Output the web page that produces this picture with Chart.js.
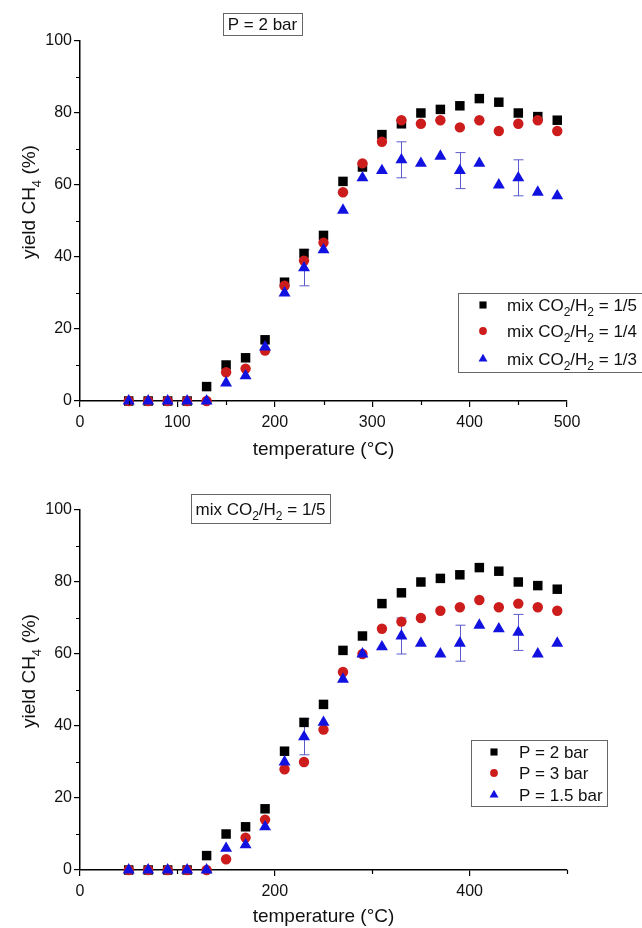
<!DOCTYPE html>
<html>
<head>
<meta charset="utf-8">
<script src="https://cdn.jsdelivr.net/npm/chart.js@4.4.1/dist/chart.umd.min.js"></script>
<style>
html, body { margin: 0; padding: 0; background: #fff; }
#wrap { position: relative; width: 642px; height: 928px; overflow: hidden; }
canvas { position: absolute; left: 0; }
</style>
</head>
<body>
<div id="wrap">
  <canvas id="chartTop" width="642" height="464" style="top:0"></canvas>
  <canvas id="chartBottom" width="642" height="464" style="top:464px"></canvas>
</div>
<script>
// temperatures (°C), shared by both panels
var temperature = [50, 70, 90, 110, 130, 150, 170, 190, 210, 230, 250, 270, 290, 310, 330, 350, 370, 390, 410, 430, 450, 470, 490];

// top panel: P = 2 bar, different CO2/H2 ratios
var yieldMix15 = [0, 0, 0, 0, 4, 10, 12, 17, 33, 41, 46, 61, 65, 74, 77, 80, 81, 82, 84, 83, 80, 79, 78];
var yieldMix14 = [0, 0, 0, 0, 0, 8, 9, 14, 32, 39, 44, 58, 66, 72, 78, 77, 78, 76, 78, 75, 77, 78, 75];
var yieldMix13 = [0, 0, 0, 0, 0, 5, 7, 15, 30, 37, 42, 53, 62, 64, 67, 66, 68, 64, 66, 60, 62, 58, 57];
var errMix13 = [null, null, null, null, null, null, null, null, null, 5, null, null, null, null, 5, null, null, 5, null, null, 5, null, null];

// bottom panel: mix CO2/H2 = 1/5, different pressures
var yieldP2 = [0, 0, 0, 0, 4, 10, 12, 17, 33, 41, 46, 61, 65, 74, 77, 80, 81, 82, 84, 83, 80, 79, 78];
var yieldP3 = [0, 0, 0, 0, 0, 3, 9, 14, 28, 30, 39, 55, 60, 67, 69, 70, 72, 73, 75, 73, 74, 73, 72];
var yieldP15 = [0, 0, 0, 0, 0, 6, 7, 12, 30, 37, 41, 53, 60, 62, 65, 63, 60, 63, 68, 67, 66, 60, 63];
var errP15 = [null, null, null, null, null, null, null, null, null, 5, null, null, null, null, 5, null, null, 5, null, null, 5, null, null];

// labels ("_x" = subscript character)
var labelsTop = ['mix CO_2/H_2 = 1/5', 'mix CO_2/H_2 = 1/4', 'mix CO_2/H_2 = 1/3'];
var labelsBottom = ['P = 2 bar', 'P = 3 bar', 'P = 1.5 bar'];
var titleTop = 'P = 2 bar';
var titleBottom = 'mix CO_2/H_2 = 1/5';
var xTitle = 'temperature (°C)';
var yTitle = 'yield CH_4 (%)';

// ticks
var yTicks = [0, 20, 40, 60, 80, 100];
var yMinor = [10, 30, 50, 70, 90];
var xTicksTop = [0, 100, 200, 300, 400, 500];
var xMinorTop = [50, 150, 250, 350, 450];
var xTicksBottom = [0, 200, 400];
var xMinorBottom = [100, 300, 500];

var FONT = '"Liberation Sans", Arial, sans-serif';
var COLORS = ['#000000', '#cc1c1c', '#1212e0'];
var STYLES = ['rect', 'circle', 'triangle'];
var RADII = [6.7, 5.2, 6.9];


function richParts(str) {
    var parts = [], buf = '';
    for (var i = 0; i < str.length; i++) {
        if (str[i] === '_' && i + 1 < str.length) {
            if (buf) parts.push({t: buf, sub: false});
            buf = '';
            parts.push({t: str[i + 1], sub: true});
            i++;
        } else {
            buf += str[i];
        }
    }
    if (buf) parts.push({t: buf, sub: false});
    return parts;
}

// y is the middle of the capital letters
function drawRich(ctx, str, x, y, size, align) {
    var parts = richParts(str);
    var subSize = Math.round(size * 0.68);
    var w = 0;
    parts.forEach(function (p) {
        ctx.font = (p.sub ? subSize : size) + 'px ' + FONT;
        p.w = ctx.measureText(p.t).width;
        w += p.w;
    });
    var cx = align === 'center' ? x - w / 2 : x;
    var base = y + size * 0.358;
    ctx.textAlign = 'left';
    ctx.textBaseline = 'alphabetic';
    ctx.fillStyle = '#111';
    parts.forEach(function (p) {
        ctx.font = (p.sub ? subSize : size) + 'px ' + FONT;
        ctx.fillText(p.t, cx, p.sub ? base + size * 0.3 : base);
        cx += p.w;
    });
    return w;
}

function drawMarker(ctx, style, x, y, r, color) {
    ctx.fillStyle = color;
    ctx.beginPath();
    if (style === 'rect') {
        var s = r * Math.SQRT1_2;
        ctx.rect(x - s, y - s, 2 * s, 2 * s);
    } else if (style === 'circle') {
        ctx.arc(x, y, r, 0, Math.PI * 2);
    } else {
        ctx.moveTo(x, y - r);
        ctx.lineTo(x + r * 0.866, y + r * 0.5);
        ctx.lineTo(x - r * 0.866, y + r * 0.5);
        ctx.closePath();
    }
    ctx.fill();
}

var decorPlugin = {
    id: 'decor',
    beforeDatasetsDraw: function (chart, args, opts) {
        var ctx = chart.ctx, xs = chart.scales.x, ys = chart.scales.y;
        var vals = opts.errValues, errs = opts.errors;
        ctx.save();
        ctx.strokeStyle = '#5a5acc';
        ctx.lineWidth = 1;
        for (var i = 0; i < errs.length; i++) {
            if (errs[i] == null) continue;
            var px = Math.round(xs.getPixelForValue(temperature[i])) + 0.5;
            var y1 = ys.getPixelForValue(vals[i] - errs[i]);
            var y2 = ys.getPixelForValue(vals[i] + errs[i]);
            ctx.beginPath();
            ctx.moveTo(px, y1); ctx.lineTo(px, y2);
            ctx.moveTo(px - 5, y1); ctx.lineTo(px + 5, y1);
            ctx.moveTo(px - 5, y2); ctx.lineTo(px + 5, y2);
            ctx.stroke();
        }
        ctx.restore();
    },
    afterDraw: function (chart, args, opts) {
        var ctx = chart.ctx, xs = chart.scales.x, ys = chart.scales.y;
        var area = chart.chartArea;
        ctx.save();

        // minor ticks
        ctx.strokeStyle = '#000';
        ctx.lineWidth = 1.2;
        ctx.beginPath();
        opts.xMinor.forEach(function (v) {
            var px = Math.round(xs.getPixelForValue(v)) + 0.5;
            ctx.moveTo(px, area.bottom); ctx.lineTo(px, area.bottom + 4);
        });
        yMinor.forEach(function (v) {
            var py = Math.round(ys.getPixelForValue(v)) + 0.5;
            ctx.moveTo(area.left, py); ctx.lineTo(area.left - 4, py);
        });
        ctx.stroke();

        // y axis title
        ctx.save();
        ctx.translate(28, area.top + 161);
        ctx.rotate(-Math.PI / 2);
        drawRich(ctx, yTitle, 0, 0, 19, 'center');
        ctx.restore();

        // title box
        var tb = opts.titleBox;
        ctx.strokeStyle = '#666';
        ctx.lineWidth = 1;
        ctx.strokeRect(tb.x + 0.5, tb.y + 0.5, tb.w, tb.h);
        drawRich(ctx, opts.title, tb.x + tb.w / 2, tb.ty, 17, 'center');

        // legend
        var lg = opts.legend;
        ctx.strokeStyle = '#666';
        ctx.strokeRect(lg.x + 0.5, lg.y + 0.5, lg.w, lg.h);
        opts.labels.forEach(function (lab, i) {
            var ry = lg.rows[i];
            drawMarker(ctx, STYLES[i], lg.mx, ry, RADII[i] * 0.75, COLORS[i]);
            drawRich(ctx, lab, lg.tx, ry, 17, 'left');
        });
        ctx.restore();
    }
};

function makeChart(id, series, labels, cfg) {
    var datasets = series.map(function (vals, i) {
        return {
            label: labels[i].replace(/_/g, ''),
            data: temperature.map(function (t, j) { return {x: t, y: vals[j]}; }),
            pointStyle: STYLES[i],
            pointRadius: RADII[i],
            pointBorderWidth: 0,
            backgroundColor: COLORS[i],
            borderColor: COLORS[i],
            showLine: false,
            clip: false,
            order: 2 - i,
        };
    });
    return new Chart(document.getElementById(id), {
        type: 'scatter',
        data: {datasets: datasets},
        options: {
            responsive: false,
            animation: false,
            events: [],
            devicePixelRatio: 1,
            layout: {padding: {top: cfg.top, right: 75, left: 0, bottom: 0}},
            plugins: {
                legend: {display: false},
                tooltip: {enabled: false},
                decor: cfg.decor,
            },
            scales: {
                x: {
                    type: 'linear',
                    min: 0,
                    max: 500,
                    afterBuildTicks: function (s) {
                        s.ticks = cfg.xTicks.map(function (v) { return {value: v}; });
                    },
                    afterFit: function (s) {
                        s.height = cfg.xHeight;
                        s.paddingLeft = 0;
                        s.paddingRight = 0;
                    },
                    grid: {display: true, drawOnChartArea: false, drawTicks: true, tickLength: 6, color: '#000', lineWidth: 1.2},
                    border: {display: true, color: '#000', width: 1.5},
                    ticks: {color: '#111', padding: 6, maxRotation: 0, font: {family: FONT, size: 16}},
                    title: {display: true, text: xTitle, color: '#111', padding: {top: 0, bottom: cfg.titlePad}, font: {family: FONT, size: 19}},
                },
                y: {
                    type: 'linear',
                    min: 0,
                    max: 100,
                    afterBuildTicks: function (s) {
                        s.ticks = yTicks.map(function (v) { return {value: v}; });
                    },
                    afterFit: function (s) {
                        s.width = 80;
                        s.paddingTop = 0;
                        s.paddingBottom = 0;
                    },
                    grid: {display: true, drawOnChartArea: false, drawTicks: true, tickLength: 6, color: '#000', lineWidth: 1.2},
                    border: {display: true, color: '#000', width: 1.5},
                    ticks: {color: '#111', padding: 2, font: {family: FONT, size: 16}},
                },
            },
        },
        plugins: [decorPlugin],
    });
}

makeChart('chartTop', [yieldMix15, yieldMix14, yieldMix13], labelsTop, {
    top: 41,
    xHeight: 63,
    titlePad: 3,
    xTicks: xTicksTop,
    decor: {
        errValues: yieldMix13,
        errors: errMix13,
        xMinor: xMinorTop,
        title: titleTop,
        titleBox: {x: 223, y: 13, w: 79, h: 22, ty: 24},
        labels: labelsTop,
        legend: {x: 458, y: 293, w: 200, h: 79, mx: 483, tx: 507, rows: [305, 331, 359]},
    },
});

makeChart('chartBottom', [yieldP2, yieldP3, yieldP15], labelsBottom, {
    top: 46,
    xHeight: 58,
    titlePad: 0,
    xTicks: xTicksBottom,
    decor: {
        errValues: yieldP15,
        errors: errP15,
        xMinor: xMinorBottom,
        title: titleBottom,
        titleBox: {x: 191, y: 30, w: 139, h: 29, ty: 45},
        labels: labelsBottom,
        legend: {x: 471, y: 276, w: 136, h: 66, mx: 494, tx: 519, rows: [288, 309, 331]},
    },
});
</script>
</body>
</html>
